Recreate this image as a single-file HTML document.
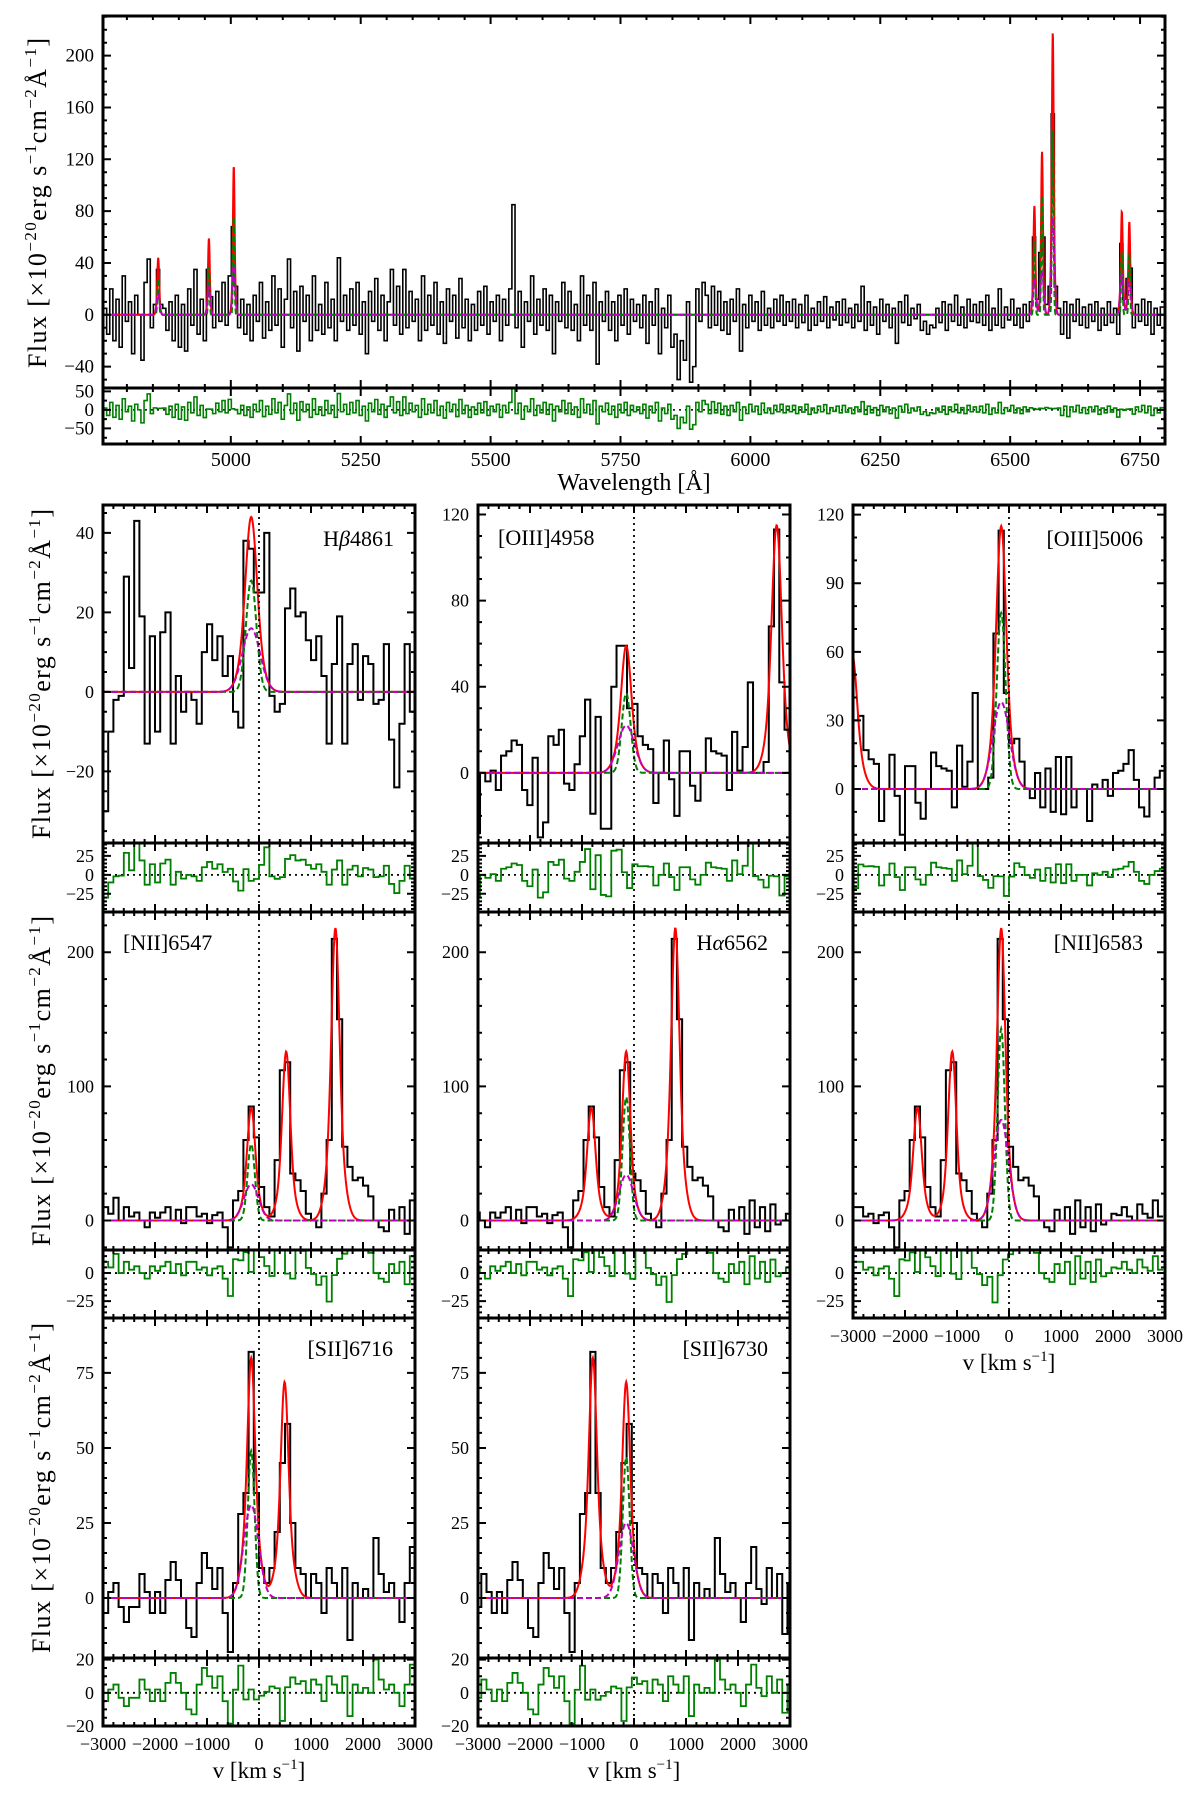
<!DOCTYPE html>
<html><head><meta charset="utf-8"><title>Spectral fit figure</title>
<style>
html,body{margin:0;padding:0;background:#fff;}
svg{display:block;font-family:"Liberation Serif","DejaVu Serif",serif;}
</style></head>
<body>
<svg id="fig" width="1200" height="1800" viewBox="0 0 1200 1800" xmlns="http://www.w3.org/2000/svg">
<rect x="0" y="0" width="1200" height="1800" fill="#fff"/>
<g id="plots"></g>
<g font-family="Liberation Serif, DejaVu Serif, serif" fill="#000">
  <text transform="translate(46,203) rotate(-90)" text-anchor="middle" font-size="26" textLength="330" lengthAdjust="spacing">Flux [×10<tspan dy="-10" font-size="17">−20</tspan><tspan dy="10">erg s</tspan><tspan dy="-10" font-size="17">−1</tspan><tspan dy="10">cm</tspan><tspan dy="-10" font-size="17">−2</tspan><tspan dy="10">Å</tspan><tspan dy="-10" font-size="17">−1</tspan><tspan dy="10">]</tspan></text>
  <text x="634" y="490" text-anchor="middle" font-size="24">Wavelength [Å]</text>
  <text transform="translate(50,674) rotate(-90)" text-anchor="middle" font-size="26" textLength="330" lengthAdjust="spacing">Flux [×10<tspan dy="-10" font-size="17">−20</tspan><tspan dy="10">erg s</tspan><tspan dy="-10" font-size="17">−1</tspan><tspan dy="10">cm</tspan><tspan dy="-10" font-size="17">−2</tspan><tspan dy="10">Å</tspan><tspan dy="-10" font-size="17">−1</tspan><tspan dy="10">]</tspan></text>
  <text transform="translate(50,1081) rotate(-90)" text-anchor="middle" font-size="26" textLength="330" lengthAdjust="spacing">Flux [×10<tspan dy="-10" font-size="17">−20</tspan><tspan dy="10">erg s</tspan><tspan dy="-10" font-size="17">−1</tspan><tspan dy="10">cm</tspan><tspan dy="-10" font-size="17">−2</tspan><tspan dy="10">Å</tspan><tspan dy="-10" font-size="17">−1</tspan><tspan dy="10">]</tspan></text>
  <text transform="translate(50,1488) rotate(-90)" text-anchor="middle" font-size="26" textLength="330" lengthAdjust="spacing">Flux [×10<tspan dy="-10" font-size="17">−20</tspan><tspan dy="10">erg s</tspan><tspan dy="-10" font-size="17">−1</tspan><tspan dy="10">cm</tspan><tspan dy="-10" font-size="17">−2</tspan><tspan dy="10">Å</tspan><tspan dy="-10" font-size="17">−1</tspan><tspan dy="10">]</tspan></text>
  <text x="259" y="1778" text-anchor="middle" font-size="23">v [km s<tspan dy="-9" font-size="15">−1</tspan><tspan dy="9">]</tspan></text>
  <text x="634" y="1778" text-anchor="middle" font-size="23">v [km s<tspan dy="-9" font-size="15">−1</tspan><tspan dy="9">]</tspan></text>
  <text x="1009" y="1370" text-anchor="middle" font-size="23">v [km s<tspan dy="-9" font-size="15">−1</tspan><tspan dy="9">]</tspan></text>
  <text x="394" y="546" text-anchor="end" font-size="22">H<tspan font-style="italic">β</tspan>4861</text>
  <text x="498" y="545" font-size="22">[OIII]4958</text>
  <text x="1143" y="546" text-anchor="end" font-size="22">[OIII]5006</text>
  <text x="123" y="950" font-size="22">[NII]6547</text>
  <text x="768" y="950" text-anchor="end" font-size="22">H<tspan font-style="italic">α</tspan>6562</text>
  <text x="1143" y="950" text-anchor="end" font-size="22">[NII]6583</text>
  <text x="393" y="1356" text-anchor="end" font-size="22">[SII]6716</text>
  <text x="768" y="1356" text-anchor="end" font-size="22">[SII]6730</text>
</g>
</svg>
<script>
// ---------- data ----------
const C = 299792.458;
const vSys = -150;
const lineRest  = [4862.7, 4960.3, 5008.2, 6549.9, 6564.6, 6585.3, 6718.3, 6732.7];
const narrowAmp = [28, 37, 77, 57, 92, 143, 49, 47];
const broadAmp  = [16, 22, 38, 27, 34, 75, 31, 25];
const narrowSig = [100, 85, 85, 70, 70, 70, 65, 65];
const broadSig  = [170, 160, 160, 140, 140, 140, 140, 140];

// top spectrum: start 4755 Å, 6 Å bins
const topStart = 4755;
const topStep = 6;
const topFlux = [
5,-15,20,-20,12,-25,30,-5,10,-30,15,0,-35,25,43,-10,8,35,8,5,
-12,10,-20,15,-25,8,-28,20,-8,35,-15,12,-20,35,14,-10,18,-5,25,-8,
30,68,22,-10,12,-15,8,-20,15,-5,25,-18,10,-12,30,-8,20,-25,12,43,
-10,18,-28,22,-5,15,-20,30,-12,8,-15,25,-10,12,-20,44,-5,15,-12,20,
-8,25,-15,10,-30,18,-5,28,-12,15,-20,10,35,-8,22,-15,35,-10,18,-5,
12,-20,30,-12,15,-8,25,-15,10,-22,20,-5,15,-18,28,-10,12,-20,8,-12,
18,-8,22,-15,10,-5,15,-20,12,-8,20,85,-10,18,-25,10,-5,30,-15,12,
-8,20,-12,15,-30,10,-5,25,-10,18,-12,8,-20,30,-8,15,-12,25,-38,10,
-5,18,-12,10,-20,15,-8,20,-15,12,-5,8,-10,15,-22,10,-8,20,-30,5,
-10,15,-25,-15,-50,-20,-35,10,-52,-40,20,-5,25,15,-10,22,-8,18,-12,10,
-15,12,-5,20,-28,8,-10,15,-5,10,-12,18,-8,5,-10,12,-5,15,-8,10,
-5,12,-10,8,-6,15,-12,5,-8,10,-5,14,-10,6,-4,10,-8,12,-6,5,
-10,8,-5,22,-12,10,-8,6,-15,12,-5,8,-10,5,-22,10,-6,15,-8,5,
-3,8,-12,-5,-15,-8,-10,5,-6,10,-12,8,-5,15,-8,6,-10,12,-5,8,
-6,10,-8,15,-12,5,-8,20,-10,6,-4,12,-8,5,-10,8,-5,10,60,12,
48,60,8,22,155,22,5,-15,10,-18,8,-5,12,-8,6,-10,8,-5,10,-12,
5,-8,10,-6,5,-15,55,12,28,36,-10,8,-5,12,-8,10,-15,5,-8,6];
const topXTicks = [5000, 5250, 5500, 5750, 6000, 6250, 6500, 6750];
const topYTicks = [-40, 0, 40, 80, 120, 160, 200];
const topRTicks = [-50, 0, 50];

// velocity-frame spectra, 100 km/s bins
const hbFlux = [-30,-10,-2,-1,29,6,43,19,-13,14,-10,15,20,-13,4,-5,0,-2,-8,10,17,8,14,4,9,-5,-9,38,36,25,25,40,-1,-5,-3,21,26,19,20,13,8,14,4,-13,7,19,-13,7,12,-2,9,7,-3,-2,12,-12,-24,-8,12,-5];
const oiiiFlux = [-28,0,-4,1,-8,8,10,15,13,-8,-15,7,-30,-23,17,13,20,-5,-8,4,17,34,-19,26,-26,-26,40,59,59,
30,32,17,13,11,-14,0,15,-3,-20,10,10,-6,-13,0,16,10,9,8,-8,19,1,12,42,0,0,5,68,113,42,
20,22,12,0,-4,7,-8,9,-10,14,-11,14,-8,0,0,-14,2,0,4,-3,7,8,11,17,4,-8,-12,0,5,8];
const haFlux = [10,5,17,0,10,3,6,0,-5,6, 2,6,10,0,8,-2,10,10,3,5, -2,4,6,-5,-20,15,22,60,85,62,
25,10,3,45,112,118,35,30,22,5, 0,-5,20,60,210,150,55,40,30,32, 26,18,0,-5,-8,8,0,10,-10,15,
-5,10,-8,12,-3,0,5,4,10,3,0,12,5,2,15,3];
const siiFlux = [-5,2,5,-3,-8,-3,-3,8,2,-5, 2,-5,6,12,6,0,-10,-13,5,15, 10,3,10,-5,-18,5,28,35,82,35,
10,5,10,22,45,58,25,10,8,0, 8,5,-5,10,5,0,10,-14,5,0, 3,0,20,8,2,5,0,-8,5,17, 3,-2,10,0,8,-12,5];
const vTicks = [-3000, -2000, -1000, 0, 1000, 2000, 3000];
const vTickLabels = ['−3000', '−2000', '−1000', '0', '1000', '2000', '3000'];

// ---------- helpers ----------
const NS = 'http://www.w3.org/2000/svg';
const root = document.getElementById('plots');
let clipN = 0;
function mk(tag, attrs, parent) {
  const el = document.createElementNS(NS, tag);
  for (const k in attrs) el.setAttribute(k, attrs[k]);
  (parent || root).appendChild(el);
  return el;
}
function gauss(v, c, s) { return Math.exp(-0.5 * ((v - c) / s) * ((v - c) / s)); }
function fmt(n) { return n < 0 ? '−' + Math.abs(n) : String(n); }
function makeClip(x0, y0, x1, y1) {
  const id = 'clip' + (clipN++);
  const cp = mk('clipPath', {id: id});
  mk('rect', {x: x0, y: y0, width: x1 - x0, height: y1 - y0}, cp);
  return 'url(#' + id + ')';
}
function drawTicks(g, box, xsc, ysc, xMaj, xMin, xlo, xhi, yMaj, yMin, ylo, yhi) {
  let d = '';
  for (let v = Math.ceil(xlo / xMin) * xMin; v <= xhi; v += xMin) {
    const x = xsc(v); const L = (xMaj.indexOf(v) >= 0) ? 8 : 4;
    d += 'M' + x + ' ' + box.y1 + 'v' + (-L) + 'M' + x + ' ' + box.y0 + 'v' + L;
  }
  for (let v = Math.ceil(ylo / yMin) * yMin; v <= yhi; v += yMin) {
    const y = ysc(v); const L = (yMaj.indexOf(v) >= 0) ? 8 : 4;
    d += 'M' + box.x0 + ' ' + y + 'h' + L + 'M' + box.x1 + ' ' + y + 'h' + (-L);
  }
  const t = mk('path', {d: d, stroke: '#000', 'stroke-width': 2, fill: 'none'}, g);
  
  
}
function yLabels(g, x0, ysc, ticks, fs) {
  for (const v of ticks) {
    const t = mk('text', {x: x0 - 9, y: ysc(v) + 6, 'text-anchor': 'end', 'font-size': fs}, g);
    t.textContent = fmt(v);
    
    
  }
}
function stepPath(edges, vals, xsc, ysc) {
  let d = 'M' + xsc(edges[0]).toFixed(2) + ' ' + ysc(vals[0]).toFixed(2);
  for (let i = 0; i < vals.length; i++) {
    if (i > 0) d += 'V' + ysc(vals[i]).toFixed(2);
    d += 'H' + xsc(edges[i + 1]).toFixed(2);
  }
  return d;
}
function curvePath(x0, x1, fn, xsc, ysc, n) {
  let d = '';
  for (let i = 0; i <= n; i++) {
    const v = x0 + (x1 - x0) * i / n;
    d += (i ? 'L' : 'M') + xsc(v).toFixed(2) + ' ' + ysc(fn(v)).toFixed(2);
  }
  return d;
}

// ---------- top panel ----------
(function () {
  const g = mk('g', {});
  
  
  const X0 = 103, X1 = 1165, Y0 = 16, Y1 = 388, Y2 = 444;
  const lmin = 4754, lmax = 6798, fmin = -56.5, fmax = 230.6, rmin = -92, rmax = 59;
  const xs = l => X0 + (l - lmin) / (lmax - lmin) * (X1 - X0);
  const ys = f => Y1 - (f - fmin) / (fmax - fmin) * (Y1 - Y0);
  const rs = f => Y2 - (f - rmin) / (rmax - rmin) * (Y2 - Y1);
  const comps = lineRest.map((l, k) => {
    const c = l * (1 + vSys / C);
    return {k: k, c: c, sn: c * narrowSig[k] / C, sb: c * broadSig[k] / C};
  });
  const mod = (l, kind) => {
    let s = 0;
    for (const o of comps) {
      if (kind !== 'b') s += narrowAmp[o.k] * gauss(l, o.c, o.sn);
      if (kind !== 'n') s += broadAmp[o.k] * gauss(l, o.c, o.sb);
    }
    return s;
  };
  const edges = topFlux.map((_, i) => topStart + i * topStep);
  edges.push(topStart + topFlux.length * topStep);
  const cm = makeClip(X0, Y0, X1, Y1);
  const cr = makeClip(X0, Y1, X1, Y2);
  const dp = mk('path', {d: stepPath(edges, topFlux, xs, ys), stroke: '#000', 'stroke-width': 1.6, fill: 'none', 'clip-path': cm}, g);
  
  
  const N = 4000;
  const red = mk('path', {d: curvePath(lmin, lmax, l => mod(l, 't'), xs, ys, N), stroke: '#ff0000', 'stroke-width': 2, fill: 'none', 'clip-path': cm}, g);
  
  
  const gr = mk('path', {d: curvePath(lmin, lmax, l => mod(l, 'n'), xs, ys, N), stroke: '#008000', 'stroke-width': 2, 'stroke-dasharray': '6 3', fill: 'none', 'clip-path': cm}, g);
  
  
  const mg = mk('path', {d: curvePath(lmin, lmax, l => mod(l, 'b'), xs, ys, N), stroke: '#bf00bf', 'stroke-width': 2, 'stroke-dasharray': '6 3', fill: 'none', 'clip-path': cm}, g);
  
  
  const resid = topFlux.map((f, i) => {
    let s = 0; const n = 12;
    for (let j = 0; j < n; j++) s += mod(edges[i] + (j + 0.5) * topStep / n, 't');
    return f - s / n;
  });
  const z = mk('line', {x1: X0, x2: X1, y1: rs(0), y2: rs(0), stroke: '#000', 'stroke-width': 1.5, 'stroke-dasharray': '2 4'}, g);
  
  
  const rp = mk('path', {d: stepPath(edges, resid, xs, rs), stroke: '#008000', 'stroke-width': 1.6, fill: 'none', 'clip-path': cr}, g);
  
  
  const b1 = mk('rect', {x: X0, y: Y0, width: X1 - X0, height: Y1 - Y0, fill: 'none', stroke: '#000', 'stroke-width': 3}, g);
  
  
  const b2 = mk('rect', {x: X0, y: Y1, width: X1 - X0, height: Y2 - Y1, fill: 'none', stroke: '#000', 'stroke-width': 3}, g);
  
  
  drawTicks(g, {x0: X0, x1: X1, y0: Y0, y1: Y1}, xs, ys, topXTicks, 50, lmin, lmax, topYTicks, 10, fmin, fmax);
  drawTicks(g, {x0: X0, x1: X1, y0: Y1, y1: Y2}, xs, rs, topXTicks, 50, lmin, lmax, topRTicks, 25, rmin, rmax);
  yLabels(g, X0, ys, topYTicks, 19);
  yLabels(g, X0, rs, topRTicks, 19);
  for (const l of topXTicks) {
    const t = mk('text', {x: xs(l), y: 466, 'text-anchor': 'middle', 'font-size': 20}, g);
    t.textContent = String(l);
    
    
  }
})();

// ---------- velocity panels ----------
const cols = [[103, 415], [478, 790], [853, 1165]];
const rows = [{t: 505, m: 843, b: 912}, {t: 912, m: 1250, b: 1318}, {t: 1318, m: 1658, b: 1726}];
const panels = [
  {name: 'hbeta-4861', col: 0, row: 0, arr: hbFlux, start: -3000, arrLine: 0, own: 0, lines: [0],
   ymin: -38, ymax: 47, yt: [-20, 0, 20, 40], ym: 5, rmin: -49, rmax: 42, rt: [-25, 0, 25], rm: 5, xl: false},
  {name: 'oiii-4958', col: 1, row: 0, arr: oiiiFlux, start: -5900, arrLine: 2, own: 1, lines: [1, 2],
   ymin: -32.6, ymax: 124.4, yt: [0, 40, 80, 120], ym: 10, rmin: -49, rmax: 42, rt: [-25, 0, 25], rm: 5, xl: false},
  {name: 'oiii-5006', col: 2, row: 0, arr: oiiiFlux, start: -5900, arrLine: 2, own: 2, lines: [1, 2],
   ymin: -23.6, ymax: 124.2, yt: [0, 30, 60, 90, 120], ym: 10, rmin: -49, rmax: 42, rt: [-25, 0, 25], rm: 5, xl: false},
  {name: 'nii-6547', col: 0, row: 1, arr: haFlux, start: -3000, arrLine: 3, own: 3, lines: [3, 4, 5],
   ymin: -22, ymax: 230, yt: [0, 100, 200], ym: 20, rmin: -40, rmax: 20.5, rt: [-25, 0], rm: 5, xl: false},
  {name: 'halpha-6562', col: 1, row: 1, arr: haFlux, start: -3000, arrLine: 3, own: 4, lines: [3, 4, 5],
   ymin: -22, ymax: 230, yt: [0, 100, 200], ym: 20, rmin: -40, rmax: 20.5, rt: [-25, 0], rm: 5, xl: false},
  {name: 'nii-6583', col: 2, row: 1, arr: haFlux, start: -3000, arrLine: 3, own: 5, lines: [3, 4, 5],
   ymin: -22, ymax: 230, yt: [0, 100, 200], ym: 20, rmin: -40, rmax: 20.5, rt: [-25, 0], rm: 5, xl: true},
  {name: 'sii-6716', col: 0, row: 2, arr: siiFlux, start: -3000, arrLine: 6, own: 6, lines: [6, 7],
   ymin: -20, ymax: 93.3, yt: [0, 25, 50, 75], ym: 5, rmin: -20, rmax: 21, rt: [-20, 0, 20], rm: 5, xl: true},
  {name: 'sii-6730', col: 1, row: 2, arr: siiFlux, start: -3000, arrLine: 6, own: 7, lines: [6, 7],
   ymin: -20, ymax: 93.3, yt: [0, 25, 50, 75], ym: 5, rmin: -20, rmax: 21, rt: [-20, 0, 20], rm: 5, xl: true}
];

for (const p of panels) {
  const g = mk('g', {});
  
  
  const X0 = cols[p.col][0], X1 = cols[p.col][1];
  const R = rows[p.row];
  const xs = v => X0 + (v + 3000) / 6000 * (X1 - X0);
  const ys = f => R.m - (f - p.ymin) / (p.ymax - p.ymin) * (R.m - R.t);
  const rs = f => R.b - (f - p.rmin) / (p.rmax - p.rmin) * (R.b - R.m);
  const ref = lineRest[p.own];
  const comps = p.lines.map(k => ({k: k, c: C * ((1 + vSys / C) * lineRest[k] / ref - 1)}));
  const mod = (v, kind, only) => {
    let s = 0;
    for (const o of comps) {
      if (only !== undefined && o.k !== only) continue;
      if (kind !== 'b') s += narrowAmp[o.k] * gauss(v, o.c, narrowSig[o.k]);
      if (kind !== 'n') s += broadAmp[o.k] * gauss(v, o.c, broadSig[o.k]);
    }
    return s;
  };
  const toPanel = va => C * ((1 + va / C) * lineRest[p.arrLine] / ref - 1);
  const edges = [];
  for (let i = 0; i <= p.arr.length; i++) edges.push(toPanel(p.start + 100 * i));
  const resid = p.arr.map((f, i) => f - mod(0.5 * (edges[i] + edges[i + 1]), 't'));
  const cm = makeClip(X0, R.t, X1, R.m);
  const cr = makeClip(X0, R.m, X1, R.b);
  const dp = mk('path', {d: stepPath(edges, p.arr, xs, ys), stroke: '#000', 'stroke-width': 2, fill: 'none', 'clip-path': cm}, g);
  
  
  const red = mk('path', {d: curvePath(-3000, 3000, v => mod(v, 't'), xs, ys, 600), stroke: '#ff0000', 'stroke-width': 2, fill: 'none', 'clip-path': cm}, g);
  
  
  const gr = mk('path', {d: curvePath(-3000, 3000, v => mod(v, 'n', p.own), xs, ys, 600), stroke: '#008000', 'stroke-width': 2, 'stroke-dasharray': '6 3', fill: 'none', 'clip-path': cm}, g);
  
  
  const mg = mk('path', {d: curvePath(-3000, 3000, v => mod(v, 'b', p.own), xs, ys, 600), stroke: '#bf00bf', 'stroke-width': 2, 'stroke-dasharray': '6 3', fill: 'none', 'clip-path': cm}, g);
  
  
  const vz = mk('line', {x1: xs(0), x2: xs(0), y1: R.t, y2: R.b, stroke: '#000', 'stroke-width': 1.8, 'stroke-dasharray': '2 4'}, g);
  
  
  const hz = mk('line', {x1: X0, x2: X1, y1: rs(0), y2: rs(0), stroke: '#000', 'stroke-width': 1.8, 'stroke-dasharray': '2 4'}, g);
  
  
  const rp = mk('path', {d: stepPath(edges, resid, xs, rs), stroke: '#008000', 'stroke-width': 1.8, fill: 'none', 'clip-path': cr}, g);
  
  
  const b1 = mk('rect', {x: X0, y: R.t, width: X1 - X0, height: R.m - R.t, fill: 'none', stroke: '#000', 'stroke-width': 3}, g);
  
  
  const b2 = mk('rect', {x: X0, y: R.m, width: X1 - X0, height: R.b - R.m, fill: 'none', stroke: '#000', 'stroke-width': 3}, g);
  
  
  drawTicks(g, {x0: X0, x1: X1, y0: R.t, y1: R.m}, xs, ys, vTicks, 200, -3000, 3000, p.yt, p.ym, p.ymin, p.ymax);
  drawTicks(g, {x0: X0, x1: X1, y0: R.m, y1: R.b}, xs, rs, vTicks, 200, -3000, 3000, p.rt, p.rm, p.rmin, p.rmax);
  yLabels(g, X0, ys, p.yt, 18);
  yLabels(g, X0, rs, p.rt, 18);
  if (p.xl) {
    vTicks.forEach((v, i) => {
      const t = mk('text', {x: xs(v), y: R.b + 24, 'text-anchor': 'middle', 'font-size': 18}, g);
      t.textContent = vTickLabels[i];
      
      
    });
  }
}
</script>
</body></html>
